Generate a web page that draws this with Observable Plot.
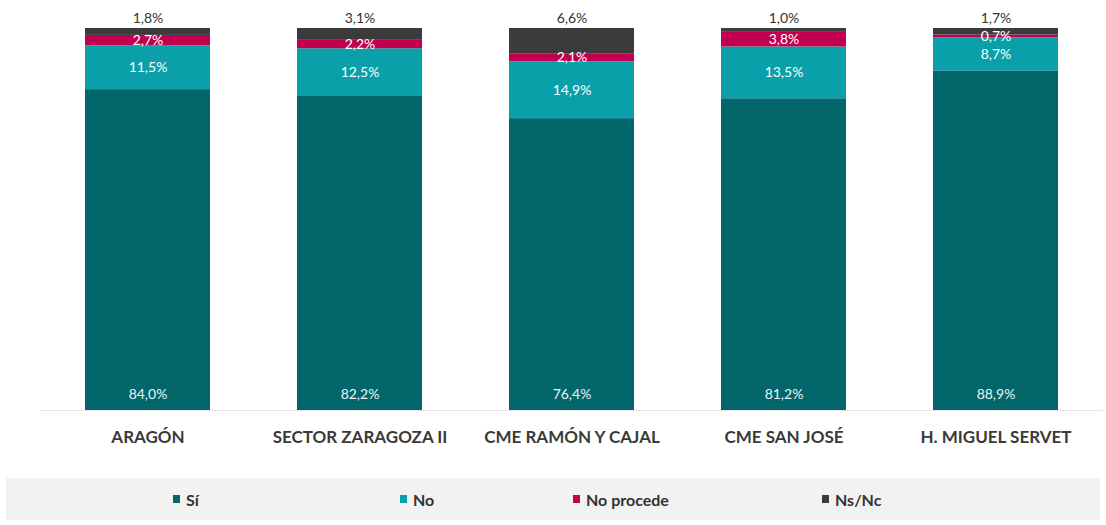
<!DOCTYPE html>
<html>
<head>
<meta charset="utf-8">
<script src="https://cdn.jsdelivr.net/npm/d3@7"></script>
<script src="https://cdn.jsdelivr.net/npm/@observablehq/plot@0.6"></script>
<style>
  html, body { margin: 0; padding: 0; background: #fff; }
  #wrap { position: relative; width: 1106px; height: 525px; font-family: Lato, "Open Sans", sans-serif; }
  #legend { position: absolute; left: 6px; top: 478px; width: 1094px; height: 42px; background: #f2f2f2; }
  .item { position: absolute; top: 0; height: 42px; display: flex; align-items: center; font-size: 16px; font-weight: bold; color: #333; }
  .sw { width: 7px; height: 8px; margin-right: 6px; display: inline-block; }
</style>
</head>
<body>
<div id="wrap">
  <div id="chart"></div>
  <div id="legend"></div>
</div>
<script>
const categories = ["ARAGÓN", "SECTOR ZARAGOZA II", "CME RAMÓN Y CAJAL", "CME SAN JOSÉ", "H. MIGUEL SERVET"];
const seriesNames = ["Sí", "No", "No procede", "Ns/Nc"];
const si        = [84.0, 82.2, 76.4, 81.2, 88.9];
const no        = [11.5, 12.5, 14.9, 13.5, 8.7];
const noProcede = [2.7, 2.2, 2.1, 3.8, 0.7];
const nsnc      = [1.8, 3.1, 6.6, 1.0, 1.7];
const colors = ["#02666b", "#0aa0aa", "#c2004f", "#3b3b3b"];

const seriesValues = [si, no, noProcede, nsnc];
const data = [];
seriesNames.forEach((s, k) => {
  categories.forEach((c, ci) => data.push({cat: c, serie: s, value: seriesValues[k][ci]}));
});
const fmt = v => v.toFixed(1).replace(".", ",") + "%";

// 100% stacked, as in the original chart
const stackOpts = {x: "cat", y: "value", z: "serie", order: seriesNames, offset: "normalize"};
const FONT = "Lato, 'Open Sans', sans-serif";

const chart = Plot.plot({
  width: 1106,
  height: 470,
  marginTop: 28,
  marginBottom: 60,
  marginLeft: 40,
  marginRight: 3,
  style: {fontFamily: FONT, background: "transparent"},
  x: {domain: categories, paddingInner: 0.41, paddingOuter: 0.207, label: null},
  y: {domain: [0, 1], axis: null},
  color: {domain: seriesNames, range: colors},
  marks: [
    Plot.barY(data, Plot.stackY({...stackOpts, fill: "serie"})),
    Plot.ruleY([0], {stroke: "#e6e6e6"}),
    // Sí labels near bar bottom
    Plot.text(data.filter(d => d.serie === "Sí"), {x: "cat", y: 0, text: d => fmt(d.value), dy: -16, fill: "#e8f4f4", fontSize: 14}),
    // No and No procede labels centered in their segment
    Plot.text(data, Plot.stackY({...stackOpts, text: d => (d.serie === "No" || d.serie === "No procede") ? fmt(d.value) : "", fill: "#ffffff", fontSize: 14})),
    // Ns/Nc labels above the bar
    Plot.text(data, Plot.stackY2({...stackOpts, text: d => d.serie === "Ns/Nc" ? fmt(d.value) : "", dy: -10, fill: "#333333", fontSize: 14})),
    Plot.axisX({tickSize: 0, tickPadding: 20, fontSize: 17, fontWeight: "bold", fill: "#3a3a3a", label: null})
  ]
});
document.getElementById("chart").appendChild(chart);

const legendLeft = [167, 394, 567, 816];
const legend = document.getElementById("legend");
seriesNames.forEach((s, i) => {
  const el = document.createElement("div");
  el.className = "item";
  el.style.left = legendLeft[i] + "px";
  el.innerHTML = `<span class="sw" style="background:${colors[i]}"></span>${s}`;
  legend.appendChild(el);
});
</script>
</body>
</html>
